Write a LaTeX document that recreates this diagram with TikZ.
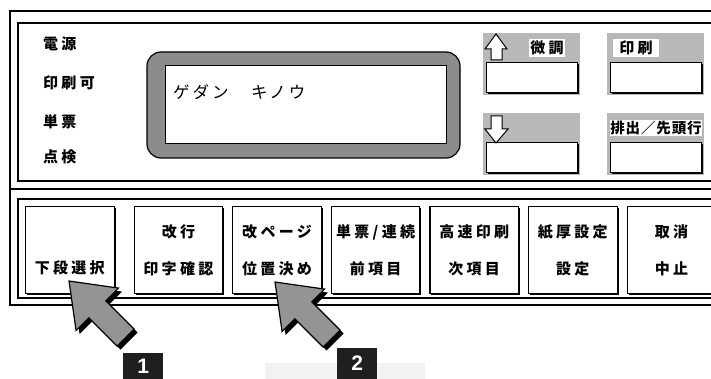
\documentclass[tikz,border=0pt]{standalone}
\usepackage{fontspec}
\usetikzlibrary{positioning,shadows}
\newfontfamily\jp{Noto Sans CJK JP}[LetterSpace=22]
\newfontfamily\jplcd{Noto Sans CJK JP}[LetterSpace=18]
\newfontfamily\numfont{Liberation Sans}

\begin{document}
\begin{tikzpicture}[
    x=1pt, y=-1pt,
    frame/.style={draw, line width=1.1pt},
    key/.style={rectangle, draw, fill=white, line width=1.1pt, inner sep=0pt,
        minimum width=88.5pt, minimum height=87pt, align=center,
        font=\jp\bfseries\fontsize{15}{37}\selectfont,
        drop shadow={shadow xshift=1.5pt, shadow yshift=-1.5pt, fill=black, opacity=1}},
    smallkey/.style={rectangle, draw, fill=white, line width=1pt, inner sep=0pt,
        minimum width=91pt, minimum height=30pt,
        drop shadow={shadow xshift=1.3pt, shadow yshift=-1.3pt, fill=black, opacity=1}},
    keyzone/.style={rectangle, fill=black!28, inner sep=0pt,
        minimum width=97pt, minimum height=62pt, anchor=north west},
    keylabel/.style={fill=white, inner sep=1.5pt, font=\jp\bfseries\fontsize{15}{17}\selectfont},
    lamp/.style={anchor=west, inner sep=0pt, font=\jp\bfseries\fontsize{15}{17}\selectfont},
    updown/.style={draw, fill=white, line width=1pt, line join=miter},
    numbox/.style={rectangle, fill=black!88, text=white, inner sep=0pt,
        minimum width=40pt, anchor=south west, font=\numfont\bfseries\fontsize{21}{24}\selectfont},
    pics/pointer/.style={code={
        \fill[black, shift={(3.5,3.5)}] (0,0) -- (49.5,7.1) -- (36.8,19.8) -- (65.1,48.1)
            -- (48.1,65.1) -- (19.8,36.8) -- (7.1,49.5) -- cycle;
        \filldraw[fill=black!42, line width=1.2pt, line join=miter] (0,0) -- (49.5,7.1) -- (36.8,19.8)
            -- (65.1,48.1) -- (48.1,65.1) -- (19.8,36.8) -- (7.1,49.5) -- cycle;
    }},
    node distance=9pt
]
    \clip (0,0) rectangle (711,379);

    % Frames
    \draw[line width=1.6pt] (10,11) rectangle (720,305);
    \draw[line width=1.4pt] (10,189) -- (720,189);
    \draw[frame] (18,23) rectangle (720,181);
    \draw[frame] (18,199) rectangle (720,298);

    % Status lamps
    \node[lamp] (power) at (43,44) {電源};
    \node[lamp] (ready) at (43,83) {印刷可};
    \node[lamp] (sheet) at (43,122) {単票};
    \node[lamp] (check) at (43,157) {点検};

    % Display
    \draw[fill=black!45, line width=1.2pt, rounded corners=14pt] (147,52) rectangle (460,158);
    \node[rectangle, draw, fill=white, line width=1.3pt, minimum width=281pt, minimum height=78pt,
        anchor=north west] (lcd) at (165,65) {};
    \node[anchor=west, inner sep=0pt, font=\jplcd\fontsize{16.5}{19}\selectfont] (msg)
        at (173,92) {ゲダン　キノウ};

    % Upper keys
    \node[keyzone] (finez) at (483,33) {};
    \node[smallkey, anchor=south] (fine) at ([yshift=2pt]finez.south) {};
    \node[keylabel] (finelbl) at (547,48) {微調};
    \path[updown] (496,34) -- (507,49) -- (502,49) -- (502,60) -- (491,60) -- (491,49) -- (485,49) -- cycle;

    \node[keyzone] (printz) at (607,33) {};
    \node[smallkey, anchor=south] (print) at ([yshift=2pt]printz.south) {};
    \node[keylabel, inner xsep=6pt] (printlbl) at (636,48) {印刷};

    \node[keyzone] (downz) at (483,113) {};
    \node[smallkey, anchor=south] (down) at ([yshift=2pt]downz.south) {};
    \path[updown] (491,116) -- (502,116) -- (502,129) -- (508,129) -- (496,143) -- (485,129) -- (491,129) -- cycle;

    \node[keyzone] (ejectz) at (607,113) {};
    \node[smallkey, anchor=south] (eject) at ([yshift=2pt]ejectz.south) {};
    \node[keylabel, inner xsep=0.5pt, font=\jp\bfseries\fontsize{14.5}{16}\selectfont\addfontfeature{LetterSpace=6}]
        (ejectlbl) at (656,128) {排出／先頭行};

    % Lower keys
    \node[key, anchor=north west] (tray) at (25,206) {\phantom{下}\\下段選択};
    \node[key, right=19pt of tray] (feed) {改行\\印字確認};
    \node[key, right=of feed] (form) {改ページ\\位置決め};
    \node[key, right=of form] (mode) {単票/連続\\前項目};
    \node[key, right=of mode] (fast) {高速印刷\\次項目};
    \node[key, right=of fast] (paper) {紙厚設定\\設定};
    \node[key, right=of paper] (cancel) {取消\\中止};

    % Pointers
    \pic at (69,281) {pointer};
    \pic at (275,282) {pointer};

    % Steps
    \fill[black!5] (265,363) rectangle (425,379);
    \node[numbox, minimum height=26pt] (step1) at (123,379) {1};
    \node[numbox, minimum height=31pt] (step2) at (337,379) {2};
\end{tikzpicture}
\end{document}
